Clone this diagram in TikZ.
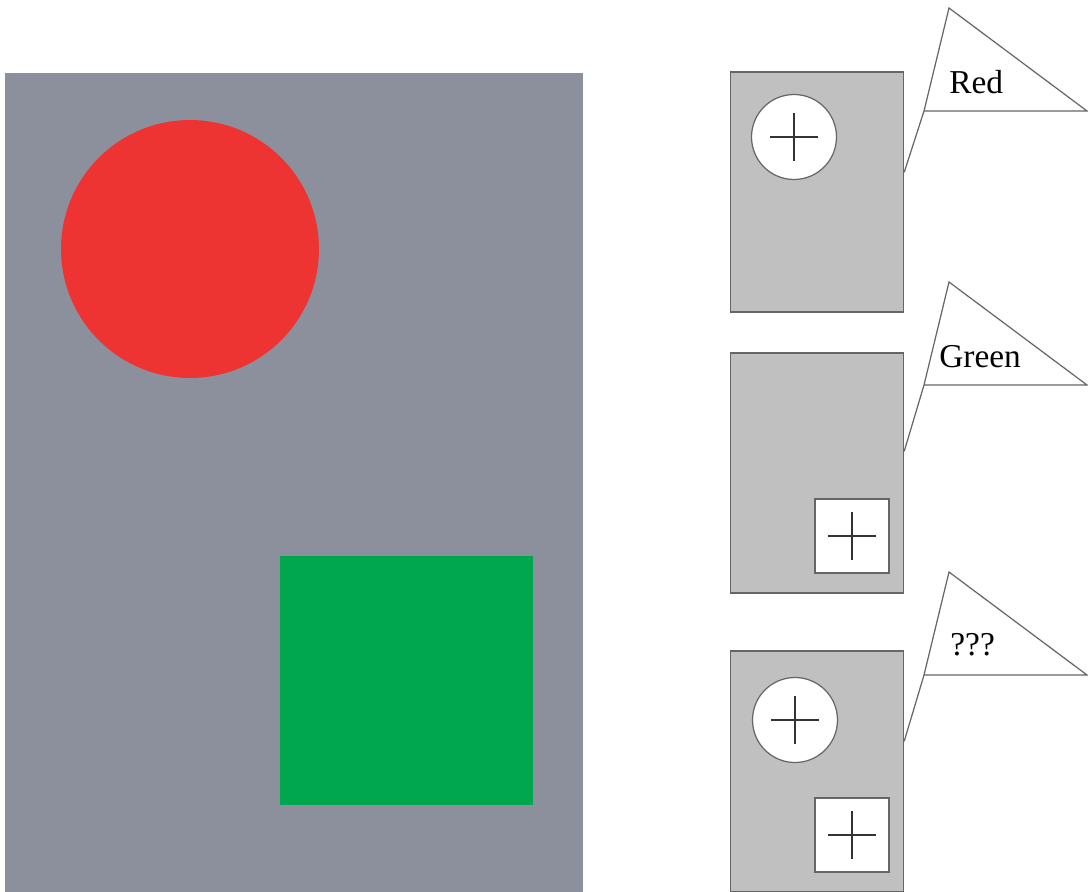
\documentclass[tikz,border=0pt]{standalone}
\usepackage{fontspec}
\setmainfont{Liberation Serif}
\usepackage{tikz}
\usetikzlibrary{calc}
\definecolor{stagec}{HTML}{8C909C}
\definecolor{redc}{HTML}{EE3433}
\definecolor{greenc}{HTML}{00A74F}
\definecolor{panelc}{HTML}{C0C0C0}
\definecolor{edgec}{HTML}{666666}
\tikzset{
  panel/.style={draw=edgec, fill=panelc, line width=0.8pt, inner sep=0pt, minimum width=3.46cm},
  spot/.style={circle, draw=edgec, fill=white, line width=0.7pt, inner sep=0pt, minimum size=1.7cm},
  tile/.style={draw=edgec, fill=white, line width=0.7pt, inner sep=0pt, minimum size=1.48cm},
  balloon/.style={draw=edgec, fill=white, line width=0.7pt},
  word/.style={anchor=base west, inner sep=0pt, font=\fontsize{19}{22}\selectfont},
}
\newcommand{\crosshair}[1]{%
  \draw[line width=0.8pt, black!80] ([xshift=-0.48cm]#1.center) -- ([xshift=0.48cm]#1.center)
    ([yshift=-0.48cm]#1.center) -- ([yshift=0.48cm]#1.center);}

\begin{document}
\begin{tikzpicture}[x=0.02cm, y=-0.02cm]
 \useasboundingbox (0,0) rectangle (1088,892);
 % the scene
 \fill[stagec] (5,73) rectangle (583,892);
 \node[circle, fill=redc, inner sep=0pt, minimum size=5.16cm] (sun) at (190,249) {};
 \node[fill=greenc, inner sep=0pt, minimum width=5.06cm, minimum height=4.98cm] (block) at (406.5,680.5) {};
 % the three views
 \node[panel, minimum height=4.8cm] (p1) at (817,192) {};
 \node[panel, minimum height=4.8cm] (p2) at (817,473) {};
 \node[panel, minimum height=4.82cm] (p3) at (817,771.5) {};
 \node[spot] (c1) at (794,137) {};
 \node[tile] (s2) at (852,536) {};
 \node[spot] (c3) at (795,720) {};
 \node[tile] (s3) at (852,835) {};
 \foreach \n in {c1,s2,c3,s3}{\crosshair{\n}}
 % speech balloons
 \foreach \p/\d/\y/\txt/\tx/\ty [count=\i] in {p1/101/111/Red/949/93, p2/99/385/Green/939/367, p3/91/675/???/950/655}{
   \coordinate (tail\i) at ($(\p.north east)+(0,\d)$);
   \draw[balloon] (tail\i) -- (924,\y) -- (949,\y-103) -- (1087,\y) -- (924,\y);
   \node[word] (w\i) at (\tx,\ty) {\txt};}
\end{tikzpicture}
\end{document}
